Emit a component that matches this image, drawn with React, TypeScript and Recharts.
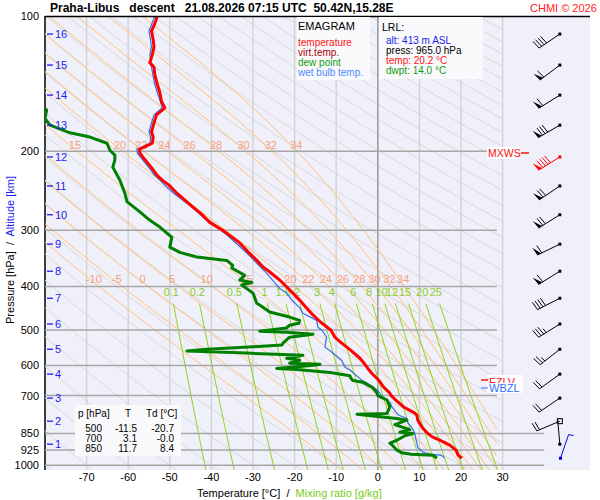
import React from "react";
import { ComposedChart, Scatter, XAxis, YAxis } from "recharts";

/**
 * Emagram of the Praha-Libus descent sounding, 21.08.2026 07:15 UTC.
 * Temperature on a linear axis, pressure on a log axis; the thermodynamic
 * background (dry/moist adiabats, mixing-ratio lines) is computed.
 */

type Pt = { t: number; p: number };

// ---- sounding (hPa / °C) ----
const tempP = [965, 958, 950, 935, 926, 902, 885, 866, 850, 827, 805, 794, 774, 765, 742, 720, 700, 690, 670, 648, 625, 609, 590, 578, 553, 530, 519, 500, 480, 463, 445, 429, 414, 400, 387, 370, 362, 350, 335, 320, 300, 288, 275, 266, 255, 248, 238, 232, 226, 220, 212, 206, 202, 198, 195, 192, 186, 181, 173, 166, 162, 160, 155, 148, 141, 135, 130, 127, 122, 117, 113, 108, 104, 100];
const tempT = [20.2, 19.8, 19.3, 19.0, 18.8, 17.3, 15.5, 13.2, 12.0, 10.8, 10.0, 9.6, 9.4, 8.8, 6.2, 4.6, 3.2, 2.8, 1.4, 0.3, -1.4, -2.4, -3.5, -4.3, -6.7, -9.2, -10.3, -11.3, -13.8, -15.6, -17.3, -18.8, -20.4, -22.0, -23.6, -26.2, -27.6, -29.1, -31.2, -33.2, -37.3, -40.4, -42.6, -44.5, -46.8, -48.3, -50.2, -51.8, -53.1, -54.0, -55.4, -56.5, -57.2, -57.3, -55.8, -54.2, -54.0, -54.4, -53.8, -53.2, -51.8, -51.2, -52.0, -52.4, -53.1, -53.6, -53.8, -54.8, -54.2, -53.8, -54.0, -54.4, -53.6, -53.0];

const wetP = [965, 955, 950, 945, 935, 913, 893, 880, 849, 825, 805, 787, 775, 767, 742, 727, 706, 681, 660, 645, 614, 605, 584, 560, 546, 530, 519, 500, 493, 476, 459, 446, 430, 414, 404, 374, 337, 307, 285, 265, 250, 240, 232, 226, 220, 212, 206, 202, 198, 195, 192, 186, 181, 173, 166, 160, 148, 141, 130, 122, 117, 108, 100];
const wetT = [16.0, 15.6, 15.0, 12.5, 10.8, 9.6, 9.4, 9.2, 8.9, 8.2, 7.2, 7.0, 5.2, 4.6, 3.4, 3.0, 1.2, 0.0, -2.2, -4.0, -6.7, -7.9, -8.7, -11.1, -12.7, -12.5, -12.3, -13.5, -14.4, -14.7, -18.0, -18.8, -20.6, -21.9, -23.6, -26.7, -31.5, -36.3, -41.1, -45.0, -48.6, -50.8, -52.4, -53.7, -54.6, -56.0, -57.1, -57.8, -57.9, -56.4, -54.8, -54.6, -55.0, -54.4, -53.8, -51.8, -53.0, -53.7, -54.4, -54.8, -54.4, -55.0, -53.6];

const dewP = [965, 955, 950, 945, 940, 926, 905, 893, 880, 860, 850, 845, 834, 812, 794, 787, 780, 770, 767, 742, 716, 700, 690, 670, 654, 648, 640, 632, 622, 612, 609, 600, 596, 593, 584, 578, 569, 563, 557, 552, 545, 540, 535, 519, 511, 506, 503, 495, 488, 483, 476, 468, 456, 440, 436, 414, 397, 392, 387, 378, 364, 359, 350, 344, 336, 327, 311, 295, 285, 273, 259, 248, 232, 217, 209, 204, 199, 192, 186, 182, 175, 169, 162, 159, 155];
const dewT = [14.2, 13.6, 13.2, 8.0, 6.0, 4.6, 3.6, 2.9, 4.6, 6.5, 8.4, 5.3, 7.7, 4.1, 7.0, 4.5, 0.5, -5.0, 2.2, 2.9, 2.2, 0.0, -0.2, -1.4, -3.6, -6.0, -6.5, -6.7, -11.5, -19.5, -24.3, -16.0, -13.9, -21.2, -18.8, -21.9, -18.0, -31.5, -45.9, -41.0, -30.0, -23.0, -22.8, -21.2, -15.6, -22.0, -28.4, -22.0, -21.2, -19.0, -18.8, -21.2, -26.0, -28.4, -29.1, -30.0, -32.7, -30.3, -33.2, -32.0, -35.1, -34.9, -36.3, -43.5, -47.6, -50.0, -49.5, -52.4, -54.8, -57.2, -60.3, -60.8, -62.0, -63.7, -63.2, -63.2, -64.4, -65.1, -69.2, -74.0, -78.8, -80.0, -79.6, -80.5, -82.0];

// altitude marks (km) and the pressure they sit at
const altKm = [1, 2, 3, 4, 5, 6, 7, 8, 9, 10, 11, 12, 13, 14, 15, 16];
const altP = [898, 798, 709, 627, 552, 485, 425, 370, 322, 277, 239, 206, 175, 150, 128.6, 109.7];

// wind at each km level: direction (deg) and speed (kt)
const windDir = [355, 247, 236, 234, 232, 238, 243, 238, 244, 238, 236, 238, 240, 238, 233, 236];
const windSpd = [2, 20, 20, 20, 25, 35, 40, 60, 60, 70, 70, 90, 80, 60, 60, 40];
const maxWindKm = 12;
const surfaceWind = { p: 965, dir: 19, spd: 5 };

const statRows = [
  ["500", "-11.5", "-20.7"],
  ["700", "3.1", "-0.0"],
  ["850", "11.7", "8.4"],
];

// ---- diagram background ----
const T_MIN = -80;
const T_MAX = 51;
const P_TOP = 100;
const P_BOT = 1025;
const tempTicks = [-70, -60, -50, -40, -30, -20, -10, 0, 10, 20, 30];
const pressureTicks = [100, 200, 300, 400, 500, 600, 700, 850, 925, 1000];
const isobarsShort = [200, 300, 400, 500, 600, 700];
const isobarsLong = [850, 925, 1000];
const dryTheta = [-80, -70, -60, -50, -40, -30, -20, -10, 0, 10, 20, 30, 40, 50, 60, 70, 80, 90, 100, 110, 120, 130, 140, 150, 160, 170, 180, 190, 200, 210, 220, 230, 240, 250, 260, 270, 280, 290, 300, 310];
const moistThetaW = [-10, -5, 0, 5, 10, 15, 20, 22, 24, 26, 28, 30, 32, 34];
const moistLabelsUpper = [15, 20, 22, 24, 26, 28, 30, 32, 34];
const moistLabelsLower = [-10, -5, 0, 5, 10, 15, 20, 22, 24, 26, 28, 30, 32, 34];
const mixingRatios = [0.1, 0.2, 0.5, 1, 1.5, 2, 3, 4, 6, 8, 10, 12, 15, 20, 25];

const FONT = "'Liberation Sans', Arial, Helvetica, sans-serif";
const RED = "#ff0000";
const GREEN = "#008000";
const BLUE = "#2f6fe8";
const ALT_BLUE = "#1c1cf0";

const RD = 287.04;
const CPD = 1005.7;
const LV = 2.501e6;
const EPS = 0.622;
const MOIST_RIGHT = 28.6;

const zip = (ps: number[], ts: number[]): Pt[] => ps.map((p, i) => ({ p, t: ts[i] }));

const esat = (tc: number) => 6.112 * Math.exp((17.67 * tc) / (tc + 243.5));
function moistLapse(p: number, tk: number) {
  const e = esat(tk - 273.15);
  const rs = (EPS * e) / (p - e);
  return (RD * tk + LV * rs) / (p * (CPD + (LV * LV * rs * EPS) / (RD * tk * tk)));
}
function rk4(p0: number, t0: number, p1: number) {
  const n = 8;
  const h = (p1 - p0) / n;
  let p = p0;
  let t = t0;
  for (let i = 0; i < n; i++) {
    const k1 = moistLapse(p, t);
    const k2 = moistLapse(p + h / 2, t + (h / 2) * k1);
    const k3 = moistLapse(p + h / 2, t + (h / 2) * k2);
    const k4 = moistLapse(p + h, t + h * k3);
    t += (h / 6) * (k1 + 2 * k2 + 2 * k3 + k4);
    p += h;
  }
  return t;
}

function clipT(pts: Pt[], lo: number, hi: number): Pt[] {
  const out: Pt[] = [];
  const inside = (q: Pt) => q.t >= lo && q.t <= hi;
  pts.forEach((a, i) => {
    if (i > 0) {
      const b = pts[i - 1];
      if (inside(a) !== inside(b)) {
        const outer = inside(a) ? b : a;
        const edge = outer.t < lo ? lo : hi;
        const f = (edge - b.t) / (a.t - b.t);
        const lp = Math.log(b.p) + f * (Math.log(a.p) - Math.log(b.p));
        out.push({ t: edge, p: Math.exp(lp) });
      }
    }
    if (inside(a)) out.push(a);
  });
  return out;
}

function tAt(curve: Pt[], p: number) {
  for (let i = 1; i < curve.length; i++) {
    const a = curve[i - 1];
    const b = curve[i];
    if (a.p >= p && b.p <= p) {
      const f = (Math.log(p) - Math.log(a.p)) / (Math.log(b.p) - Math.log(a.p));
      return a.t + f * (b.t - a.t);
    }
  }
  return NaN;
}

const pGrid: number[] = [];
for (let i = 0; i <= 90; i++) pGrid.push(P_BOT * Math.pow(P_TOP / P_BOT, i / 90));

const dryCurves = dryTheta.map((th) =>
  clipT(pGrid.map((p) => ({ p, t: (th + 273.15) * Math.pow(p / 1000, RD / CPD) - 273.15 })), T_MIN, 30)
);

const moistRaw = moistThetaW.map((tw) => {
  const pts: Pt[] = [];
  let t = rk4(1000, tw + 273.15, pGrid[0]);
  pts.push({ p: pGrid[0], t: t - 273.15 });
  for (let i = 1; i < pGrid.length; i++) {
    t = rk4(pGrid[i - 1], t, pGrid[i]);
    pts.push({ p: pGrid[i], t: t - 273.15 });
  }
  return pts;
});
const moistCurves = moistRaw.map((c) => clipT(c, T_MIN, MOIST_RIGHT));

const tdMix = (w: number, p: number) => {
  const l = Math.log((w * p) / (622 + w) / 6.112);
  return (243.5 * l) / (17.67 - l);
};
const mixingCurves = mixingRatios.map((w) =>
  clipT(pGrid.filter((p) => p >= 428).map((p) => ({ p, t: tdMix(w, p) })), T_MIN, T_MAX)
);

// labels sit just right of the line they name
const upperLabelData = moistLabelsUpper.map((tw) => ({
  t: tAt(moistRaw[moistThetaW.indexOf(tw)], 194) + 1.2,
  p: 194,
  label: String(tw),
}));
const lowerLabelData = moistLabelsLower.map((tw) => ({
  t: tAt(moistRaw[moistThetaW.indexOf(tw)], 385) + 1,
  p: 385,
  label: String(tw),
}));
const mixLabelData = mixingRatios.map((w) => ({ t: tdMix(w, 412), p: 412, label: String(w) }));

const altData = altKm.map((km, i) => ({ t: T_MIN, p: altP[i], label: String(km) }));
const windData = altKm.map((km, i) => ({
  t: 43.75,
  p: altP[i],
  dir: windDir[i],
  spd: windSpd[i],
  color: km === maxWindKm ? RED : "#000",
  hollow: km === 2,
}));
const surfaceData = [{ t: 43.9, ...surfaceWind, color: "#0000ee", hollow: false }];

const none = () => <g />;

function TextMark(color: string) {
  return (props: any) => {
    const { cx, cy, payload } = props;
    if (!Number.isFinite(cx) || !Number.isFinite(cy)) return <g />;
    return (
      <text x={cx} y={cy} fill={color} fontSize={11} textAnchor="middle" dominantBaseline="central">
        {payload.label}
      </text>
    );
  };
}

function AltMark(props: any) {
  const { cx, cy, payload } = props;
  return (
    <g>
      <line x1={cx + 2} x2={cx + 8} y1={cy} y2={cy} stroke={ALT_BLUE} strokeWidth={1.3} />
      <text x={cx + 10} y={cy} fill={ALT_BLUE} fontSize={11} dominantBaseline="central">
        {payload.label}
      </text>
    </g>
  );
}

function Barb(props: any) {
  const { cx, cy, payload } = props;
  const color = payload.color;
  const a = (payload.dir * Math.PI) / 180;
  const sx = Math.sin(a);
  const sy = -Math.cos(a);
  const L = 25;
  const tx = cx + sx * L;
  const ty = cy + sy * L;
  let bx = -sy + 0.15 * sx;
  let by = sx + 0.15 * sy;
  const bl = Math.hypot(bx, by);
  bx /= bl;
  by /= bl;
  const at = (d: number) => [tx - sx * d, ty - sy * d];
  const parts: React.ReactNode[] = [];
  let rest = payload.spd;
  let d = 0;
  let k = 0;
  while (rest >= 47.5) {
    const [x0, y0] = at(d);
    const [x1, y1] = at(d + 4);
    parts.push(<polygon key={k++} points={`${x0},${y0} ${x1},${y1} ${x0 + bx * 9},${y0 + by * 9}`} fill={color} />);
    d += 5;
    rest -= 50;
  }
  while (rest >= 7.5) {
    const [x0, y0] = at(d);
    parts.push(<line key={k++} x1={x0} y1={y0} x2={x0 + bx * 9} y2={y0 + by * 9} stroke={color} />);
    d += 3;
    rest -= 10;
  }
  if (rest >= 2.5) {
    const [x0, y0] = at(d);
    parts.push(<line key={k++} x1={x0} y1={y0} x2={x0 + bx * 5} y2={y0 + by * 5} stroke={color} />);
  }
  return (
    <g>
      <line x1={cx} y1={cy} x2={tx} y2={ty} stroke={color} />
      {payload.hollow ? (
        <rect x={cx - 2.5} y={cy - 2.5} width={5} height={5} fill="none" stroke={color} />
      ) : (
        <rect x={cx - 1.5} y={cy - 1.5} width={3} height={3} fill={color} />
      )}
      {parts}
    </g>
  );
}

const lineSeries = (key: string, pts: Pt[], stroke: string, width = 1) => (
  <Scatter
    key={key}
    data={pts}
    fill={stroke}
    shape={none}
    line={{ stroke, strokeWidth: width, strokeLinejoin: "round" }}
    isAnimationActive={false}
  />
);

export default function App() {
  return (
    <div
      style={{
        position: "absolute",
        left: 0,
        top: 0,
        width: 600,
        height: 500,
        background: "#fff",
        fontFamily: FONT,
        overflow: "hidden",
      }}
    >
      <div style={{ position: "absolute", left: 45, top: 16, width: 545, height: 454, background: "#f0f0fb" }} />
      <div style={{ position: "absolute", left: 0, top: 0 }}>
        <ComposedChart width={600} height={500} margin={{ top: 16, right: 10, bottom: 0, left: 0 }}>
          <XAxis
            type="number"
            dataKey="t"
            domain={[T_MIN, T_MAX]}
            ticks={tempTicks}
            interval={0}
            allowDataOverflow
            axisLine={false}
            tickLine={false}
            tickSize={2}
            tickMargin={1}
            height={30}
            tick={{ fontSize: 11, fill: "#000" }}
          />
          <YAxis
            type="number"
            dataKey="p"
            scale="log"
            domain={[P_TOP, P_BOT]}
            reversed
            ticks={pressureTicks}
            interval={0}
            allowDataOverflow
            width={45}
            axisLine={{ stroke: "#000", strokeWidth: 1.5 }}
            tickLine={false}
            tickSize={4}
            tickMargin={2}
            tick={{ fontSize: 11, fill: "#000" }}
          />
          {dryCurves.map((c, i) => lineSeries(`dry${i}`, c, "#d9d9d9"))}
          {tempTicks.map((t) =>
            lineSeries(`vt${t}`, [{ t, p: P_TOP }, { t, p: P_BOT }], t === 0 ? "#9a9a9a" : "#d4d4d4", 1.5)
          )}
          {moistCurves.map((c, i) => lineSeries(`moist${i}`, c, "#ffc27a"))}
          {mixingCurves.map((c, i) => lineSeries(`mix${i}`, c, "#8fd414"))}
          {isobarsShort.map((p) => lineSeries(`ib${p}`, [{ t: T_MIN, p }, { t: MOIST_RIGHT, p }], "#a6a6a6", 1.5))}
          {isobarsLong.map((p) => lineSeries(`il${p}`, [{ t: T_MIN, p }, { t: 40, p }], "#a6a6a6", 1.5))}
          <Scatter data={upperLabelData} shape={TextMark("#f5a07e")} isAnimationActive={false} />
          <Scatter data={lowerLabelData} shape={TextMark("#f5a07e")} isAnimationActive={false} />
          <Scatter data={mixLabelData} shape={TextMark("#8ccc22")} isAnimationActive={false} />
          {lineSeries("wet", zip(wetP, wetT), BLUE, 1.2)}
          {lineSeries("dew", clipT(zip(dewP, dewT), T_MIN, T_MAX), GREEN, 3)}
          {lineSeries("temp", zip(tempP, tempT), RED, 3)}
          <Scatter data={altData} shape={AltMark} isAnimationActive={false} />
          <Scatter data={windData} shape={Barb} isAnimationActive={false} />
          <Scatter data={surfaceData} shape={Barb} isAnimationActive={false} />
        </ComposedChart>
      </div>
      <svg width={600} height={500} style={{ position: "absolute", left: 0, top: 0, pointerEvents: "none" }}>
        <text x={50} y={12} fontSize={12} fontWeight="bold" style={{ whiteSpace: "pre" }}>
          {"Praha-Libus   descent   21.08.2026 07:15 UTC  50.42N,15.28E"}
        </text>
        <text x={530} y={12} fontSize={11} fill="#ff2020">
          CHMI © 2026
        </text>
        <line x1={45} x2={590} y1={16.5} y2={16.5} stroke="#000" strokeWidth={1.5} />

        <rect x={297} y={17} width={73} height={63} fill="#fafafd" />
        <text x={298} y={30} fontSize={11}>EMAGRAM</text>
        <text x={298} y={46} fontSize={10} fill="#ff1010">temperature</text>
        <text x={298} y={56} fontSize={10} fill="#a80000">virt.temp.</text>
        <text x={298} y={66} fontSize={10} fill="#109a10">dew point</text>
        <text x={298} y={76} fontSize={10} fill="#4a88ff">wet bulb temp.</text>

        <rect x={379} y={17} width={104} height={62} fill="#fafafd" />
        <text x={382} y={31} fontSize={10.5}>LRL:</text>
        <text x={386} y={44} fontSize={10} fill="#2020ee">alt: 413 m ASL</text>
        <text x={386} y={54} fontSize={10}>press: 965.0 hPa</text>
        <text x={386} y={64} fontSize={10} fill="#ff1010">temp: 20.2 °C</text>
        <text x={386} y={74} fontSize={10} fill="#109a10">dwpt: 14.0 °C</text>

        <rect x={487} y={147} width={32} height={12} fill="#fff" />
        <text x={488} y={157} fontSize={10.5} fill="#ff1010">MXWS</text>
        <line x1={521} x2={529} y1={153} y2={153} stroke="#ff1010" strokeWidth={1.5} />

        <rect x={487} y={375} width={36} height={9} fill="#fff" />
        <line x1={481} x2={488} y1={380} y2={380} stroke="#ff1010" strokeWidth={1.5} />
        <text x={489} y={386} fontSize={11} fill="#ff1010">FZLV</text>
        <rect x={487} y={383} width={36} height={10} fill="#fff" />
        <line x1={481} x2={488} y1={388} y2={388} stroke="#3070ff" strokeWidth={1} />
        <text x={489} y={392} fontSize={11} fill="#3070ff">WBZL</text>

        <rect x={75} y={405} width={106} height={51} fill="#fafafd" />
        <text x={78} y={417} fontSize={10}>p [hPa]</text>
        <text x={128} y={417} fontSize={10} textAnchor="middle">T</text>
        <text x={146} y={417} fontSize={10}>Td [°C]</text>
        {statRows.map((r, i) => (
          <g key={r[0]}>
            <text x={102} y={432 + i * 10} fontSize={10} textAnchor="end">{r[0]}</text>
            <text x={137} y={432 + i * 10} fontSize={10} textAnchor="end">{r[1]}</text>
            <text x={174} y={432 + i * 10} fontSize={10} textAnchor="end">{r[2]}</text>
          </g>
        ))}

        <text x={197} y={497} fontSize={11} style={{ whiteSpace: "pre" }}>
          {"Temperature [°C]  /  "}
          <tspan fill="#77cc22">Mixing ratio [g/kg]</tspan>
        </text>
        <text transform="translate(14,250) rotate(-90)" fontSize={11} textAnchor="middle" style={{ whiteSpace: "pre" }}>
          {"Pressure [hPa]  /  "}
          <tspan fill={ALT_BLUE}>Altitude [km]</tspan>
        </text>
      </svg>
    </div>
  );
}
